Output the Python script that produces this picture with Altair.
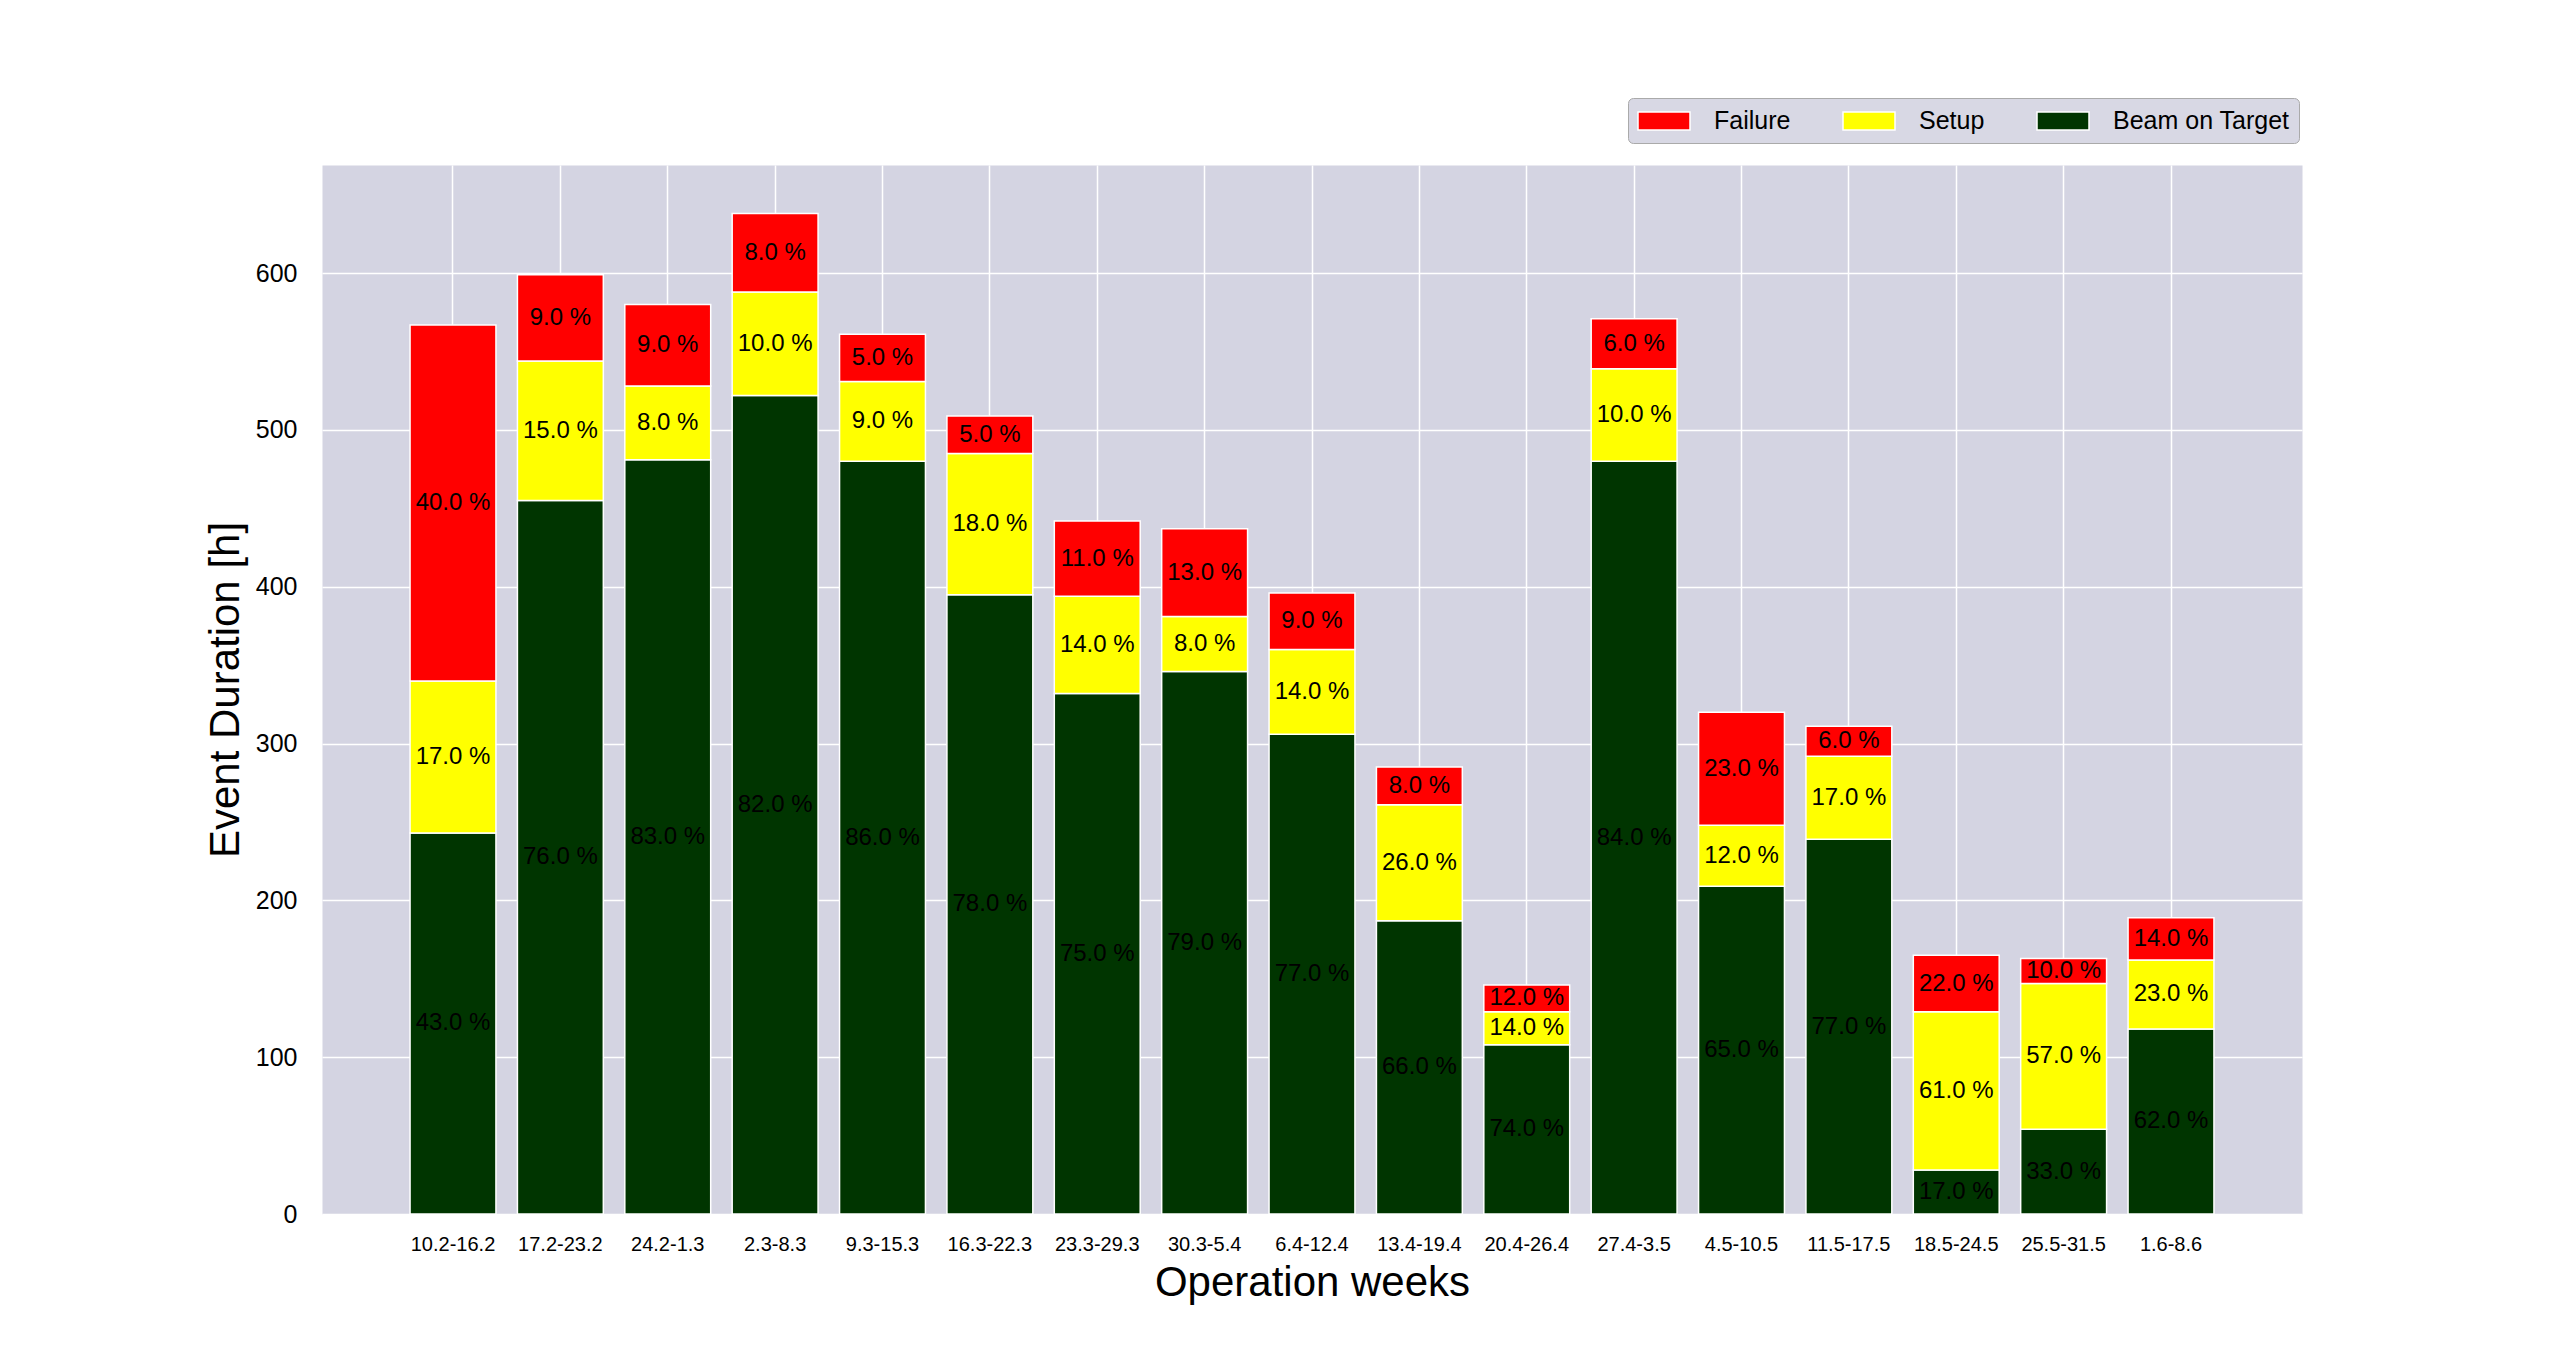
import altair as alt
import pandas as pd

weeks = ["10.2-16.2", "17.2-23.2", "24.2-1.3", "2.3-8.3", "9.3-15.3", "16.3-22.3",
         "23.3-29.3", "30.3-5.4", "6.4-12.4", "13.4-19.4", "20.4-26.4", "27.4-3.5",
         "4.5-10.5", "11.5-17.5", "18.5-24.5", "25.5-31.5", "1.6-8.6"]
beam = [243, 455, 481, 522, 480, 395, 332, 346, 306, 187, 108, 480, 209, 239, 28, 54, 118]
setup = [97, 89, 47, 66, 51, 90, 62, 35, 54, 74, 21, 59, 39, 53, 101, 93, 44]
failure = [227, 55, 52, 50, 30, 24, 48, 56, 36, 24, 17, 32, 72, 19, 36, 16, 27]
beam_pct = [43, 76, 83, 82, 86, 78, 75, 79, 77, 66, 74, 84, 65, 77, 17, 33, 62]
setup_pct = [17, 15, 8, 10, 9, 18, 14, 8, 14, 26, 14, 10, 12, 17, 61, 57, 23]
failure_pct = [40, 9, 9, 8, 5, 5, 11, 13, 9, 8, 12, 6, 23, 6, 22, 10, 14]

categories = ["Failure", "Setup", "Beam on Target"]
colors = ["#ff0000", "#ffff00", "#003500"]
stack_rank = {"Beam on Target": 0, "Setup": 1, "Failure": 2}

rows = []
for i, w in enumerate(weeks):
    for cat, vals, pcts in [("Beam on Target", beam, beam_pct),
                            ("Setup", setup, setup_pct),
                            ("Failure", failure, failure_pct)]:
        rows.append(dict(week=w, cat=cat, hours=vals[i],
                         label=f"{pcts[i]:.1f} %", rank=stack_rank[cat]))
df = pd.DataFrame(rows)

FONT = "Liberation Sans"

base = alt.Chart(df).transform_stack(
    stack="hours", groupby=["week"], sort=[alt.SortField("rank")], as_=["y0", "y1"]
).transform_calculate(ymid="(datum.y0 + datum.y1) / 2")

xenc = alt.X(
    "week:N", sort=weeks,
    scale=alt.Scale(paddingInner=0.2, paddingOuter=0.82),
    axis=alt.Axis(
        title="Operation weeks", labelAngle=0, labelFontSize=20, labelFont=FONT,
        labelColor="black", labelPadding=20, ticks=False, domain=False,
        grid=True, gridColor="white", gridWidth=1.5, bandPosition=0.5,
        titleFontSize=42, titleFont=FONT, titleFontWeight="normal",
        titleColor="black", titlePadding=8,
    ),
)

yscale = alt.Scale(domain=[0, 669], nice=False, zero=True)

bars = base.mark_bar(stroke="white", strokeWidth=1.5).encode(
    x=xenc,
    y=alt.Y("y0:Q", scale=yscale, axis=alt.Axis(
        title="Event Duration [h]", values=[0, 100, 200, 300, 400, 500, 600],
        labelFontSize=25, labelFont=FONT, labelColor="black", labelPadding=25,
        ticks=False, domain=False, grid=True, gridColor="white", gridWidth=1.5,
        titleFontSize=42, titleFont=FONT, titleFontWeight="normal",
        titleColor="black", titlePadding=8,
    )),
    y2="y1:Q",
    color=alt.Color("cat:N", scale=alt.Scale(domain=categories, range=colors),
                    legend=alt.Legend(
                        title=None, orient="none", legendX=1306, legendY=-67,
                        direction="horizontal", fillColor="#d8d8e4",
                        strokeColor="#aaaaaa", cornerRadius=5, padding=9,
                        labelFontSize=25, labelFont=FONT, labelColor="black",
                        labelLimit=0,
                        symbolType="M-2,-0.7H2V0.7H-2Z", symbolSize=676,
                        symbolOffset=13,
                        symbolStrokeColor="white", symbolStrokeWidth=1.5,
                        symbolOpacity=1, columnPadding=49, labelOffset=36,
                    )),
)

text = base.mark_text(fontSize=24, font=FONT, color="black").encode(
    x=alt.X("week:N", sort=weeks),
    y=alt.Y("ymid:Q", scale=yscale),
    text="label:N",
)

chart = alt.layer(bars, text).properties(
    width=1980, height=1049,
    autosize=alt.AutoSizeParams(type="none"),
    padding={"left": 314, "top": 157, "right": 250, "bottom": 143},
).configure_view(fill="#d4d4e2", strokeOpacity=0)

chart.save("out.html", embed_options={"renderer": "svg", "actions": False})
